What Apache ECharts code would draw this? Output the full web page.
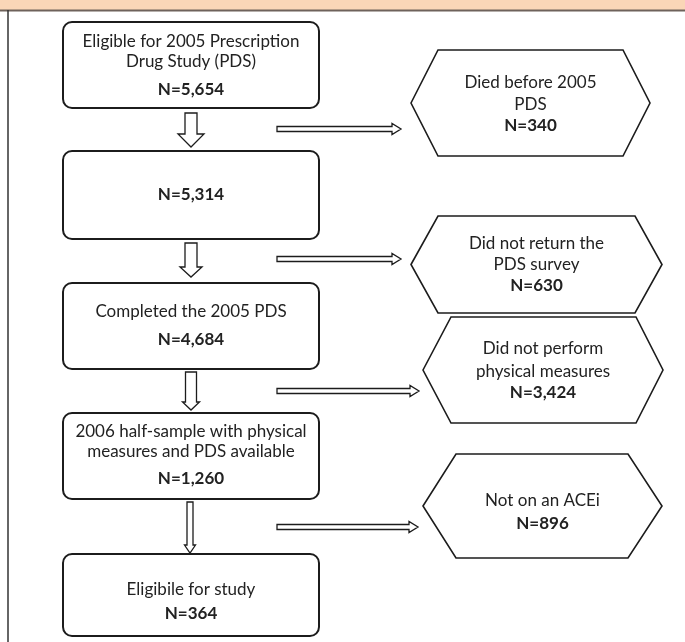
<!DOCTYPE html>
<html><head><meta charset="utf-8">
<script src="https://cdn.jsdelivr.net/npm/echarts@6/dist/echarts.min.js"></script>
<style>html,body{margin:0;padding:0;background:#fff}#c{width:685px;height:642px}</style>
</head><body><div id="c"></div>
<script>
// ---- data ----
const stepLabels = [
  "Eligible for 2005 Prescription\nDrug Study (PDS)",
  "",
  "Completed the 2005 PDS",
  "2006 half-sample with physical\nmeasures and PDS available",
  "Eligibile for study"
];
const stepCounts = [5654, 5314, 4684, 1260, 364];
const exclusionLabels = [
  "Died before 2005\nPDS",
  "Did not return the\nPDS survey",
  "Did not perform\nphysical measures",
  "Not on an ACEi"
];
const exclusionCounts = [340, 630, 3424, 896];

// ---- layout (drawing frame units = pixels of the 685x642 canvas) ----
const boxLayout = [
  {x0:63, x1:319, y0:22,  y1:108, lines:[42,62],   ny:90},
  {x0:63, x1:319, y0:151, y1:239, lines:[],        ny:195},
  {x0:63, x1:319, y0:283, y1:369, lines:[312],     ny:340},
  {x0:63, x1:319, y0:413, y1:499, lines:[432,452], ny:479},
  {x0:63, x1:319, y0:554, y1:636, lines:[590],     ny:614}
];
const hexLayout = [
  {l:411, r:650, t:50,  b:156, tl:438, tr:623, lines:[83,105],  ny:126},
  {l:411, r:662, t:216, b:313, tl:438, tr:635, lines:[244,265], ny:286},
  {l:423, r:663, t:317, b:423, tl:451, tr:636, lines:[349,372], ny:393},
  {l:423, r:662, t:454, b:558, tl:456, tr:628, lines:[501],     ny:524}
];
const downArrowLayout = [
  {cx:191, top:113, neck:134, tip:147, sw:12, hw:26},
  {cx:191, top:243, neck:267, tip:277, sw:12, hw:22},
  {cx:191, top:372, neck:402, tip:410, sw:11, hw:17},
  {cx:190, top:502, neck:545, tip:553, sw:6,  hw:11}
];
const sideArrowLayout = [
  {x0:277, tip:401, y:129},
  {x0:277, tip:401, y:259},
  {x0:277, tip:419, y:391},
  {x0:277, tip:418, y:527}
];

const FONT = 'Lato';
const TXT = '#222';
const STROKE = '#1c1c1c';
const fmt = v => 'N=' + v.toLocaleString('en-US');

function textEl(t, x, y, bold){
  return {type:'text', style:{text:t, x:x, y:y, align:'center', verticalAlign:'middle',
    fontFamily:FONT, fontSize:17, fontWeight: bold ? 'bold' : 'normal', fill:TXT}};
}

function renderBox(params, api){
  const i = api.value(0);
  const L = boxLayout[i];
  const p0 = api.coord([L.x0, L.y0]), p1 = api.coord([L.x1, L.y1]);
  const cx = (p0[0] + p1[0]) / 2;
  const ch = [{type:'rect', shape:{x:p0[0], y:p0[1], width:p1[0]-p0[0], height:p1[1]-p0[1], r:9},
    style:{fill:'#fff', stroke:STROKE, lineWidth:2}}];
  const lines = stepLabels[i] ? stepLabels[i].split('\n') : [];
  lines.forEach((t,k) => ch.push(textEl(t, cx, api.coord([0, L.lines[k]])[1], false)));
  ch.push(textEl(fmt(api.value(1)), cx, api.coord([0, L.ny])[1], true));
  return {type:'group', children:ch};
}

function renderHex(params, api){
  const i = api.value(0);
  const L = hexLayout[i];
  const m = (L.t + L.b) / 2;
  const pts = [[L.l,m],[L.tl,L.t],[L.tr,L.t],[L.r,m],[L.tr,L.b],[L.tl,L.b]].map(p => api.coord(p));
  const cx = api.coord([(L.l + L.r) / 2, 0])[0];
  const ch = [{type:'polygon', shape:{points:pts}, style:{fill:'#fff', stroke:STROKE, lineWidth:1.6}}];
  exclusionLabels[i].split('\n').forEach((t,k) => ch.push(textEl(t, cx, api.coord([0, L.lines[k]])[1], false)));
  ch.push(textEl(fmt(api.value(1)), cx, api.coord([0, L.ny])[1], true));
  return {type:'group', children:ch};
}

function renderDown(params, api){
  const A = downArrowLayout[api.value(0)];
  const s = A.sw/2, h = A.hw/2;
  const pts = [[A.cx-s,A.top],[A.cx+s,A.top],[A.cx+s,A.neck],[A.cx+h,A.neck],[A.cx,A.tip],
               [A.cx-h,A.neck],[A.cx-s,A.neck]].map(p => api.coord(p));
  return {type:'polygon', shape:{points:pts}, style:{fill:'#fff', stroke:STROKE, lineWidth:1.3}};
}

function renderSide(params, api){
  const A = sideArrowLayout[api.value(0)];
  const s = 2.5, h = 5.5, hl = 9;
  const pts = [[A.x0,A.y-s],[A.tip-hl,A.y-s],[A.tip-hl,A.y-h],[A.tip,A.y],[A.tip-hl,A.y+h],
               [A.tip-hl,A.y+s],[A.x0,A.y+s]].map(p => api.coord(p));
  return {type:'polygon', shape:{points:pts}, style:{fill:'#fff', stroke:STROKE, lineWidth:1.3}};
}

const chart = echarts.init(document.getElementById('c'), null, {renderer:'canvas'});
chart.setOption({
  backgroundColor:'#fff',
  animation:false,
  grid:{left:0, right:0, top:0, bottom:0},
  xAxis:{type:'value', min:0, max:685, show:false},
  yAxis:{type:'value', min:0, max:642, inverse:true, show:false},
  graphic:[
    {type:'rect', shape:{x:0, y:0, width:685, height:10}, style:{fill:'#fad6b7'}, z:0},
    {type:'line', shape:{x1:0, y1:10.5, x2:685, y2:10.5}, style:{stroke:'#6e625b', lineWidth:2}, z:1},
    {type:'line', shape:{x1:8, y1:10, x2:8, y2:642}, style:{stroke:'#333', lineWidth:1.5}, z:1}
  ],
  series:[
    {type:'custom', clip:false, renderItem:renderDown, data: stepCounts.slice(1).map((v,i) => [i, v])},
    {type:'custom', clip:false, renderItem:renderSide, data: exclusionCounts.map((v,i) => [i, v])},
    {type:'custom', clip:false, renderItem:renderBox, data: stepCounts.map((v,i) => [i, v])},
    {type:'custom', clip:false, renderItem:renderHex, data: exclusionCounts.map((v,i) => [i, v])}
  ]
});
</script></body></html>
